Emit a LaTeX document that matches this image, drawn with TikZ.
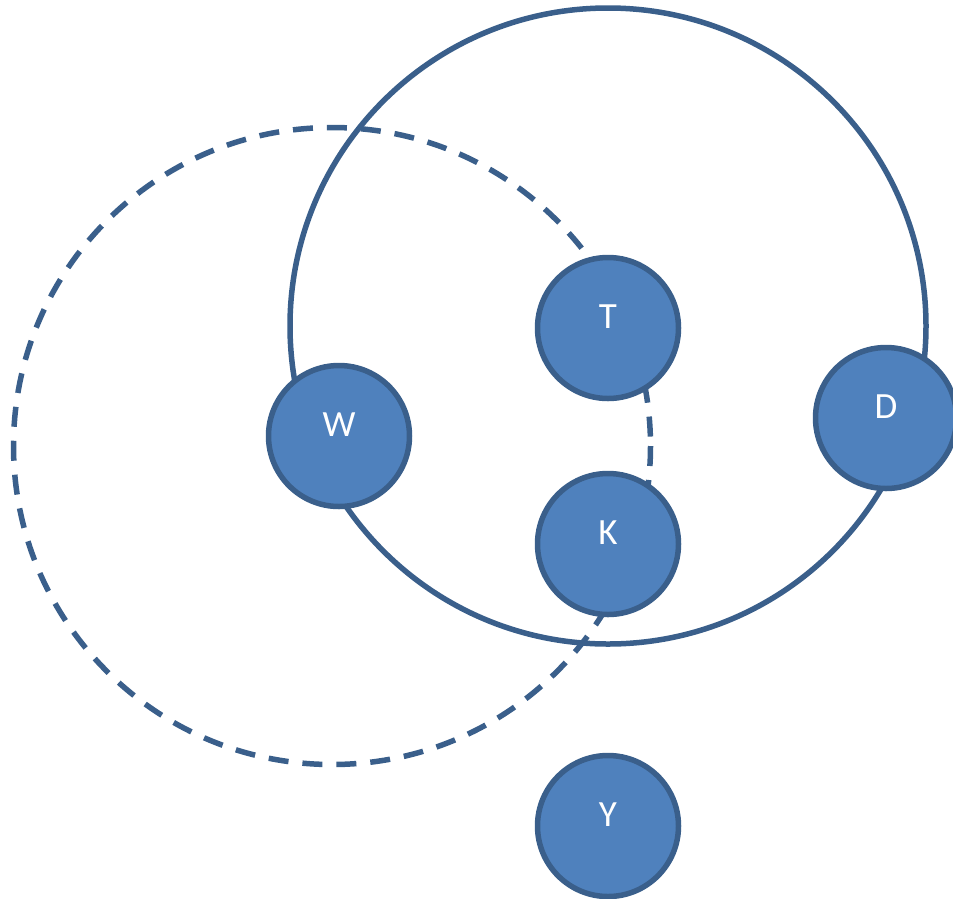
\documentclass[tikz,border=0pt]{standalone}
\usepackage{fontspec}
\setmainfont{Carlito}
\definecolor{edgeblue}{HTML}{3A5F8B}
\definecolor{fillblue}{HTML}{4F81BD}
\tikzset{
  ring/.style={draw=edgeblue, line width=5.5pt},
  token/.style={circle, draw=edgeblue, fill=fillblue, line width=5.5pt,
    minimum size=141pt, inner sep=0pt},
  tokenlabel/.style={text=white, font=\fontsize{37}{37}\selectfont,
    inner sep=0pt, anchor=center},
}
\begin{document}
\begin{tikzpicture}[x=1pt, y=-1pt]
  \useasboundingbox (0,0) rectangle (953,898);
  % the two overlapping regions
  \draw[ring] (608,326) circle[radius=318];
  \draw[ring, dash pattern=on 20pt off 14pt] (332,446) circle[radius=318.5];
  % members
  \node[token] (T) at (608,328) {};
  \node[token] (W) at (339,436) {};
  \node[token] (D) at (886,418) {};
  \node[token] (K) at (608,544) {};
  \node[token] (Y) at (608,826) {};
  % labels, set a little above each centre
  \foreach \n in {T,W,D,K,Y}
    \node[tokenlabel] (\n-label) at ([yshift=11pt]\n.center) {\n};
\end{tikzpicture}
\end{document}
